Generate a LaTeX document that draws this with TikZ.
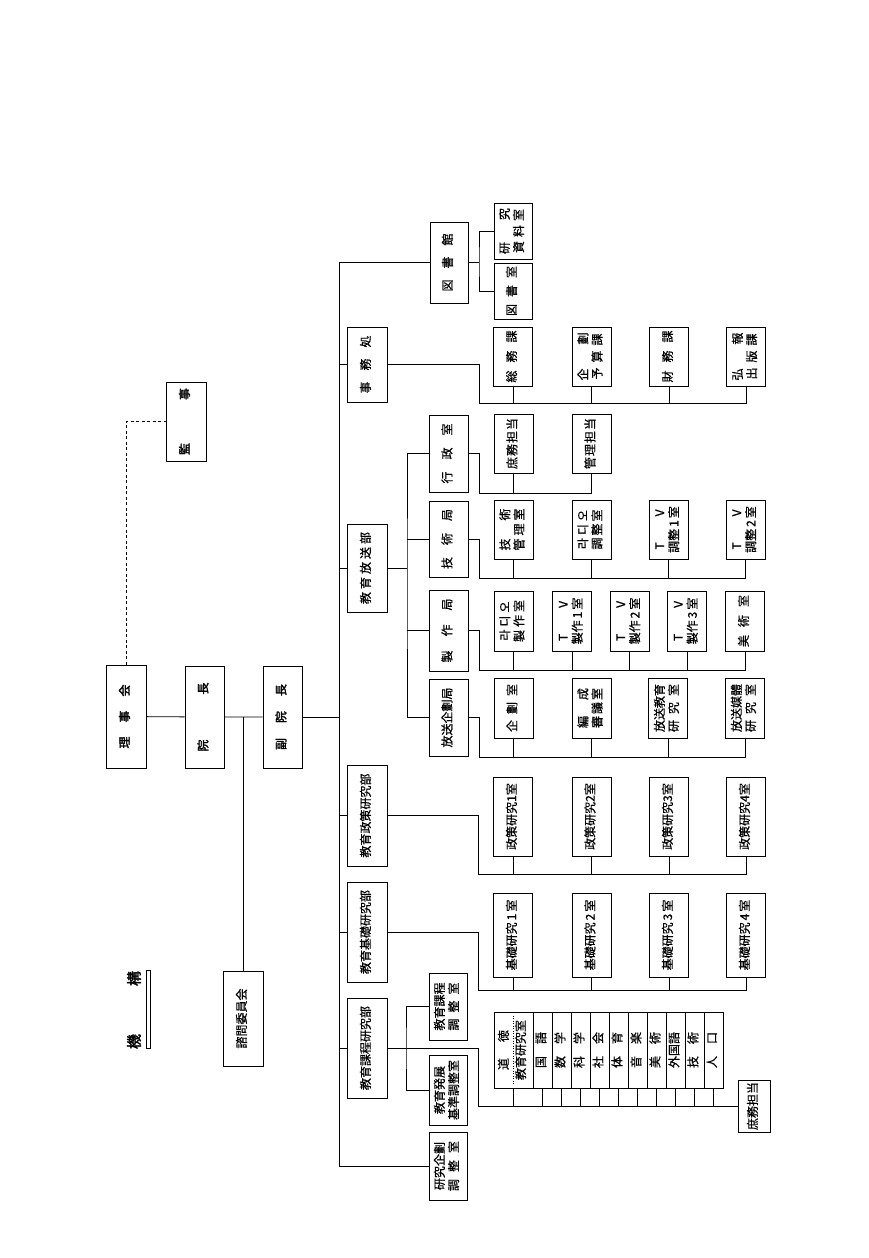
\documentclass[tikz,border=0pt]{standalone}
\usepackage{fontspec}
\setmainfont{Noto Sans CJK JP}[FakeBold=0.6]
\newfontfamily\heavy{Noto Sans CJK JP}[FakeBold=2.2]
\usepackage{graphicx}
\usetikzlibrary{positioning}

\tikzset{
  box/.style={draw, line width=1pt, inner sep=0pt, minimum width=39pt},
  head/.style={box, font=\heavy\fontsize{12}{13.5}\selectfont},
  link/.style={line width=0.8pt},
}
\newcommand{\vt}[1]{\rotatebox{90}{\begin{tabular}{@{}c@{}}#1\end{tabular}}}
\newcommand{\gp}[1]{\hspace{#1}}

\begin{document}
\begin{tikzpicture}[x=1pt, y=-1pt, font=\fontsize{12}{13.5}\selectfont]
\useasboundingbox[fill=white] (0,0) rectangle (869,1258);

% Title
\node[font=\heavy\fontsize{15}{15}\selectfont] (title) at (134,1010) {\rotatebox{90}{機\gp{48pt}構}};
\draw[line width=0.6pt] (146,970) rectangle (150.5,1048);

% Board, president, vice president
\node[head, minimum width=40pt, minimum height=103pt] (rijikai) at (126,716.5) {\vt{理\gp{14pt}事\gp{14pt}会}};
\node[head, minimum height=102pt] (incho) at (204.5,717) {\vt{院\gp{45pt}長}};
\node[head, minimum height=102pt] (fuku) at (282.5,717) {\vt{副\gp{15pt}院\gp{15pt}長}};
\node[head, minimum width=40pt, minimum height=79pt] (kanji) at (186,421.5) {\vt{監\gp{43pt}事}};
\node[box, minimum width=40pt, minimum height=95pt] (shimon) at (243,1018.5) {\vt{諮問委員会}};

\draw[link] (rijikai) -- (incho) -- (fuku);
\draw[link, dash pattern=on 3pt off 2.5pt] (rijikai.north) |- (kanji.west);
\coordinate (sm) at (243,717);
\draw[link] (sm) -- (shimon.north);

% Departments on the trunk
\node[box, minimum width=40pt, minimum height=75pt] (jimusho) at (367,364.5) {\vt{事\gp{11pt}務\gp{11pt}処}};
\node[box, minimum width=40pt, minimum height=88pt] (hoso) at (367,568) {\vt{教\gp{3pt}育\gp{3pt}放\gp{3pt}送\gp{3pt}部}};
\node[box, minimum width=40pt, minimum height=101pt] (seisaku) at (367,815.5) {\vt{教育政策研究部}};
\node[box, minimum width=40pt, minimum height=100pt] (kiso) at (367,932) {\vt{教育基礎研究部}};
\node[box, minimum width=40pt, minimum height=100pt] (katei) at (367,1048) {\vt{教育課程研究部}};
\node[box, minimum width=38pt, minimum height=81pt] (tosho) at (449,262.5) {\vt{図\gp{11pt}書\gp{11pt}館}};
\node[box, minimum width=38pt, minimum height=68pt] (kikaku) at (448,1166) {\vt{研究企劃\\調\gp{7pt}整\gp{7pt}室}};

\coordinate (tr) at (339,1166);
\draw[link] (tosho.west) -| (tr) -- (kikaku.west);
\draw[link] (fuku.east) -- (fuku.east -| tr);
\foreach \n in {jimusho,hoso,seisaku,kiso,katei}
  \draw[link] (\n.west) -- (\n.west -| tr);

% Library
\node[box, minimum width=38pt, minimum height=56pt] (kenshiryo) at (513,231) {\vt{研\gp{22pt}究\\資\gp{4pt}料\gp{4pt}室}};
\node[box, minimum width=38pt, minimum height=56pt] (toshoshitsu) at (513,291) {\vt{図\gp{7pt}書\gp{7pt}室}};
\coordinate (tb) at (479,262.5);
\draw[link] (tosho.east) -- (tb);
\draw[link] (kenshiryo.west) -| (tb) |- (toshoshitsu.west);

% Administration office
\node[box, minimum height=59pt] (somu) at (513,356.5) {\vt{総\gp{8pt}務\gp{8pt}課}};
\node[box, minimum height=59pt] (yosan) at (591.5,356.5) {\vt{企\gp{24pt}劃\\予\gp{5pt}算\gp{5pt}課}};
\node[box, minimum height=59pt] (zaimu) at (669,356.5) {\vt{財\gp{8pt}務\gp{8pt}課}};
\node[box, minimum height=59pt] (koho) at (746,356.5) {\vt{弘\gp{24pt}報\\出\gp{5pt}版\gp{5pt}課}};
\coordinate (jb) at (479,403);
\draw[link] (jimusho.east) -| (jb) -| (koho.south);
\foreach \n in {somu,yosan,zaimu}
  \draw[link] (\n.south) -- (\n.south |- jb);

% Broadcasting department
\node[box, minimum height=77pt] (gyosei) at (448.5,453.5) {\vt{行\gp{12pt}政\gp{12pt}室}};
\node[box, minimum height=76pt] (gijutsu) at (448.5,539) {\vt{技\gp{12pt}術\gp{12pt}局}};
\node[box, minimum height=81pt] (seisakukyoku) at (448.5,630.5) {\vt{製\gp{14pt}作\gp{14pt}局}};
\node[box, minimum height=77pt] (hosokikaku) at (448.5,717.5) {\vt{放送企劃局}};
\coordinate (hb) at (407,582);
\draw[link] (hoso.east) -- (hoso.east -| hb);
\draw[link] (gyosei.west) -| (hb) |- (hosokikaku.west);
\foreach \n in {gijutsu,seisakukyoku}
  \draw[link] (\n.west) -- (\n.west -| hb);

% Administration room
\node[box, minimum height=59pt] (shomu) at (513.5,443.5) {\vt{庶\gp{1pt}務\gp{1pt}担\gp{1pt}当}};
\node[box, minimum height=59pt] (kanri) at (591.5,443.5) {\vt{管\gp{1pt}理\gp{1pt}担\gp{1pt}当}};
\coordinate (gyb) at (479,493);
\draw[link] (gyosei.east) -| (gyb) -| (kanri.south);
\draw[link] (shomu.south) -- (shomu.south |- gyb);

% Technical bureau
\node[box, minimum height=59pt] (gkanri) at (513.5,529.5) {\vt{技\gp{18pt}術\\管\gp{3pt}理\gp{3pt}室}};
\node[box, minimum height=59pt] (rchosei) at (591.5,529.5) {\vt{라\gp{3pt}디\gp{3pt}오\\調\gp{2pt}整\gp{2pt}室}};
\node[box, minimum height=59pt] (tvchoa) at (668.5,529.5) {\vt{T\gp{26pt}V\\調整\,1\,室}};
\node[box, minimum height=59pt] (tvchob) at (745.5,529.5) {\vt{T\gp{26pt}V\\調整\,2\,室}};
\coordinate (gjb) at (479,578);
\draw[link] (gijutsu.east) -| (gjb) -| (tvchob.south);
\foreach \n in {gkanri,rchosei,tvchoa}
  \draw[link] (\n.south) -- (\n.south |- gjb);

% Production bureau
\node[box, minimum height=60pt] (rseisaku) at (513.5,621) {\vt{라\gp{3pt}디\gp{3pt}오\\製\gp{3pt}作\gp{3pt}室}};
\node[box, minimum height=60pt] (tvsa) at (572,621) {\vt{T\gp{26pt}V\\製作\,1\,室}};
\node[box, minimum height=60pt] (tvsb) at (629.5,621) {\vt{T\gp{26pt}V\\製作\,2\,室}};
\node[box, minimum height=60pt] (tvsc) at (687,621) {\vt{T\gp{26pt}V\\製作\,3\,室}};
\node[box, minimum height=60pt] (bijutsu) at (745,621) {\vt{美\gp{8pt}術\gp{8pt}室}};
\coordinate (skb) at (479,670);
\draw[link] (seisakukyoku.east) -| (skb) -| (bijutsu.south);
\foreach \n in {rseisaku,tvsa,tvsb,tvsc}
  \draw[link] (\n.south) -- (\n.south |- skb);

% Planning bureau
\node[box, minimum height=60pt] (kikakushitsu) at (513.5,708) {\vt{企\gp{6pt}劃\gp{6pt}室}};
\node[box, minimum height=60pt] (hensei) at (591.5,708) {\vt{編\gp{16pt}成\\審\gp{2pt}議\gp{2pt}室}};
\node[box, minimum height=60pt] (hkyoiku) at (668,708) {\vt{放送教育\\研\gp{6pt}究\gp{6pt}室}};
\node[box, minimum height=60pt] (hbaitai) at (745,708) {\vt{放送媒體\\研\gp{6pt}究\gp{6pt}室}};
\coordinate (hkb) at (479,757);
\draw[link] (hosokikaku.east) -| (hkb) -| (hbaitai.south);
\foreach \n in {kikakushitsu,hensei,hkyoiku}
  \draw[link] (\n.south) -- (\n.south |- hkb);

% Policy research
\foreach \i/\xx in {1/513,2/591.5,3/669,4/746}
  \node[box, minimum height=79pt] (pol\i) at (\xx,816.5) {\vt{政策研究\i 室}};
\coordinate (spb) at (478,874);
\draw[link] (seisaku.east) -| (spb) -| (pol4.south);
\foreach \i in {1,2,3}
  \draw[link] (pol\i.south) -- (pol\i.south |- spb);

% Basic research
\foreach \i/\xx in {1/513,2/591.5,3/669,4/746}
  \node[box, minimum height=84pt] (bas\i) at (\xx,935) {\vt{基礎研究\,\i\,室}};
\coordinate (kb) at (478,990);
\draw[link] (kiso.east) -| (kb) -| (bas4.south);
\foreach \i in {1,2,3}
  \draw[link] (bas\i.south) -- (bas\i.south |- kb);

% Curriculum research
\node[box, minimum width=38pt, minimum height=67pt] (kateichosei) at (448,1006.5) {\vt{教育課程\\調\gp{6pt}整\gp{6pt}室}};
\node[box, minimum width=38pt, minimum height=70pt] (hatten) at (448,1090) {\vt{教育発展\\基準調整室}};
\coordinate (kt) at (406,1048);
\draw[link] (kateichosei.west) -| (kt) |- (hatten.west);

\node[box, minimum height=76pt] (dotoku) at (513.5,1050) {\vt{道\gp{16pt}徳\\[3pt]教育研究室}};
\draw[line width=0.5pt, dotted] ([yshift=-4pt]dotoku.north) -- ([yshift=4pt]dotoku.south);
\foreach \t [count=\i] in {国\gp{12pt}語,数\gp{12pt}学,科\gp{12pt}学,社\gp{12pt}会,体\gp{12pt}育,音\gp{12pt}楽,美\gp{12pt}術,外国語,技\gp{12pt}術,人\gp{12pt}口}
  \node[box, minimum width=19pt, minimum height=76pt] (subj\i) at ({523.5+19*\i},1050) {\vt{\t}};
\node[box, minimum width=32pt, minimum height=52pt] (shomub) at (754,1106) {\vt{庶務担当}};
\coordinate (ktb) at (478,1106);
\draw[link] (katei.east) -| (ktb) -- (shomub.west);
\draw[link] (dotoku.south) -- (dotoku.south |- ktb);
\foreach \i in {1,...,10}
  \draw[link] (subj\i.south) -- (subj\i.south |- ktb);
\end{tikzpicture}
\end{document}
